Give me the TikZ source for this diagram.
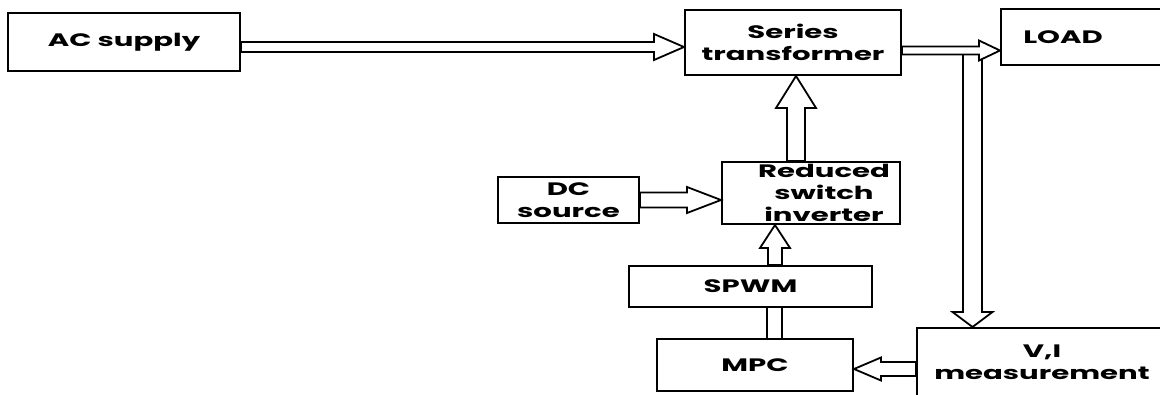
\documentclass[tikz,border=0pt]{standalone}
\usepackage{fontspec}
\newfontfamily\gf{Poppins}[FakeStretch=1.62]
\usetikzlibrary{calc}
\newcommand\hollowarr[5]{%
  \coordinate (hb) at ($(#2)!#5!(#1)$);
  \draw[arr] ($(#1)!#3!90:(#2)$) -- ($(hb)!#3!90:(#2)$) -- ($(hb)!#4!90:(#2)$) -- (#2)
    -- ($(hb)!#4!-90:(#2)$) -- ($(hb)!#3!-90:(#2)$) -- ($(#1)!#3!-90:(#2)$) -- cycle;}
\tikzset{
  txt/.style={inner sep=0pt, align=center, font=\gf\bfseries\fontsize{18}{22}\selectfont},
  box/.style={txt, draw, line width=2pt},
  arr/.style={draw, line width=1.8pt, fill=white, line join=miter},
  bar/.style={line width=1.8pt}
}
\begin{document}
\begin{tikzpicture}[x=1pt,y=-1pt]
\useasboundingbox (0,0) rectangle (1160,394);
\fill[white] (0,0) rectangle (1160,394);
\clip (0,0) rectangle (1160,394);
% boxes
\node[box, minimum width=232pt, minimum height=58pt] (ac) at (124,42) {AC supply};
\node[box, minimum width=216pt, minimum height=65pt] (st) at (793,42.5) {Series\\transformer};
\node[box, minimum width=170pt, minimum height=56pt] (load) at (1086,37) {};
\node[txt] (loadt) at (1063,37) {LOAD};
\node[box, minimum width=178pt, minimum height=62pt] (red) at (811,193) {};
\node[txt] (redt) at (824,193) {Reduced\\switch\\inverter};
\node[box, minimum width=141pt, minimum height=46pt] (dc) at (568.5,200) {DC\\source};
\node[box, minimum width=243pt, minimum height=41pt] (spwm) at (750.5,286.5) {SPWM};
\node[box, minimum width=196pt, minimum height=52pt] (mpc) at (755,365) {MPC};
\node[box, minimum width=290pt, minimum height=82pt] (vi) at (1062,369) {};
\node[txt] (vit) at (1042,362.5) {V,I\\measurement};
% connector end points
\coordinate (a1s) at ($(ac.east)+(0,5)$);
\coordinate (a1e) at (a1s -| st.west);
\coordinate (a2s) at ($(st.east)+(0,8)$);
\coordinate (a2e) at (a2s -| load.west);
\coordinate (tap) at (972.5,54);
\coordinate (a3e) at (tap |- vi.north);
\coordinate (a4s) at ($(red.north)+(-15,0)$);
\coordinate (a4e) at (a4s |- st.south);
\coordinate (a5s) at (dc.east);
\coordinate (a5e) at (a5s -| red.west);
\coordinate (a6s) at ($(spwm.north)+(24.5,0)$);
\coordinate (a6e) at (a6s |- red.south);
\coordinate (b7s) at ($(spwm.south)+(24,0)$);
\coordinate (b7e) at (b7s |- mpc.north);
\coordinate (a8s) at (vi.west);
\coordinate (a8e) at (a8s -| mpc.east);
% connectors
\hollowarr{a1s}{a1e}{5pt}{13pt}{30pt}
\hollowarr{tap}{a3e}{9.5pt}{20pt}{15pt}
\hollowarr{a2s}{a2e}{4pt}{10pt}{21pt}
\hollowarr{a4s}{a4e}{9pt}{20pt}{32pt}
\hollowarr{a5s}{a5e}{7.5pt}{13pt}{34pt}
\hollowarr{a6s}{a6e}{7pt}{15pt}{23pt}
\draw[bar] ($(b7s)+(-7.5,0)$) -- ($(b7e)+(-7.5,0)$);
\draw[bar] ($(b7s)+(7.5,0)$) -- ($(b7e)+(7.5,0)$);
\hollowarr{a8s}{a8e}{7pt}{11.5pt}{27pt}
\end{tikzpicture}
\end{document}
